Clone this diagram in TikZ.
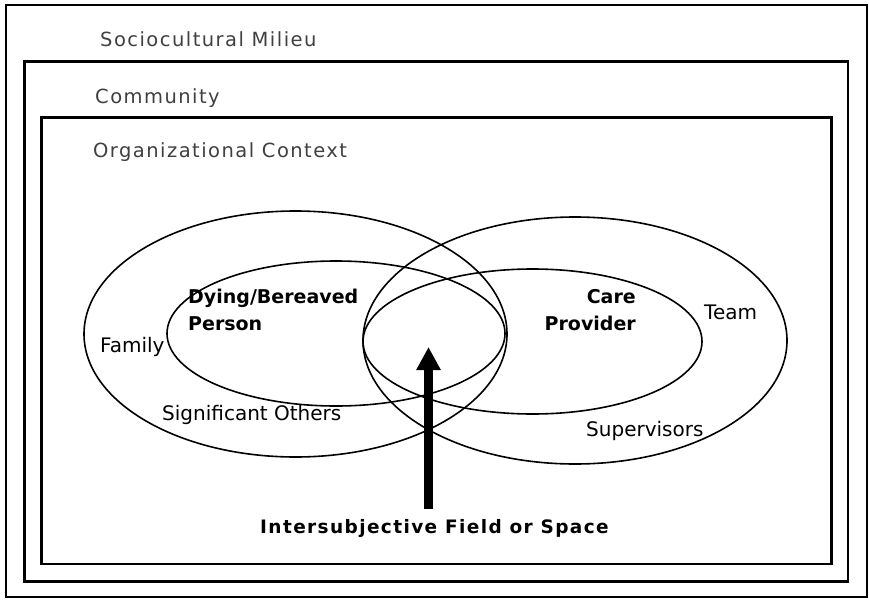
\documentclass[tikz,border=0pt]{standalone}
\usepackage{fontspec}
\setmainfont{DejaVu Sans}
\newfontfamily\widefont[LetterSpace=7.5]{DejaVu Sans}
\usetikzlibrary{shapes.geometric,arrows.meta}
\definecolor{ctxgray}{HTML}{404040}
\tikzset{
  frame/.style={draw=black, line width=2.6pt},
  ring/.style={draw, ellipse, line width=1.6pt, inner sep=0pt},
  ctxlabel/.style={anchor=base west, inner sep=0pt, text=ctxgray, font=\widefont\fontsize{19.5}{23}\selectfont},
  plainlabel/.style={inner sep=0pt, font=\fontsize{20}{24}\selectfont},
  mainlabel/.style={inner sep=0pt, font=\bfseries\fontsize{19}{27}\selectfont},
  fieldarrow/.style={line width=9pt, -{Triangle[width=23pt,length=23pt]}}
}
\begin{document}
\begin{tikzpicture}[x=1pt, y=-1pt]
  \useasboundingbox (0,0) rectangle (869,599);

  % nested contexts
  \draw[frame] (6,5) rectangle (867,597);
  \draw[frame] (24.5,61.5) rectangle (848,581.5);
  \draw[frame] (41.5,117.5) rectangle (831.5,564);

  \node[ctxlabel] (milieu) at (100,47) {Sociocultural Milieu};
  \node[ctxlabel] (community) at (95,103) {Community};
  \node[ctxlabel] (org) at (93,157) {Organizational Context};

  % overlapping circles of the two persons
  \node[ring, minimum width=423pt, minimum height=246pt] (family) at (295.5,334) {};
  \node[ring, minimum width=338pt, minimum height=145pt] (person) at (336,333.5) {};
  \node[ring, minimum width=424pt, minimum height=247pt] (team) at (575,340.5) {};
  \node[ring, minimum width=339pt, minimum height=145pt] (provider) at (532.5,341.5) {};

  \node[plainlabel, anchor=base west] (familylbl) at (100,352) {Family};
  \node[plainlabel, anchor=base west] (others) at (162,420) {Significant Others};
  \node[plainlabel, anchor=base west] (teamlbl) at (704,319) {Team};
  \node[plainlabel, anchor=base west] (supervisors) at (586,436) {Supervisors};

  \node[mainlabel, anchor=base west, align=left] (dying) at (188,330) {Dying/Bereaved\\Person};
  \node[mainlabel, anchor=base east, align=right] (care) at (636,330) {Care\\Provider};

  % shared field
  \node[anchor=base west, inner sep=0pt, font=\widefont\bfseries\fontsize{18.5}{22}\selectfont] (field) at (260,533) {Intersubjective Field or Space};
  \coordinate (fieldtop) at (428.5,509);
  \coordinate (tip) at (428.5,347);
  \draw[fieldarrow] (fieldtop) -- (tip);
\end{tikzpicture}
\end{document}
